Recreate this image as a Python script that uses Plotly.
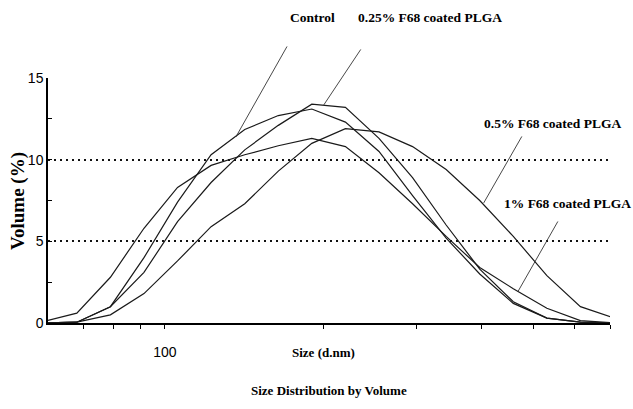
import math
import plotly.graph_objects as go

# ---------------- data ----------------
size_nm = [50.75, 58.77, 68.06, 78.82, 91.28, 105.7, 122.4, 141.8, 164.2, 190.1,
           220.2, 255.0, 295.3, 342.0, 396.1, 458.7, 531.2, 615.1, 712.4, 825.0]

vol_control = [0, 0, 0.05, 1.0, 4.0, 7.4, 10.3, 11.85, 12.7, 13.1,
               12.3, 10.5, 7.8, 5.2, 3.0, 1.2, 0.3, 0.05, 0, 0]
vol_025 = [0, 0, 0.05, 1.0, 3.1, 6.2, 8.6, 10.6, 12.1, 13.4,
           13.2, 11.3, 8.9, 6.0, 3.3, 1.3, 0.3, 0.05, 0, 0]
vol_05 = [0, 0, 0.05, 0.5, 1.8, 3.8, 5.9, 7.3, 9.3, 11.0,
          11.9, 11.7, 10.8, 9.4, 7.5, 5.3, 2.9, 1.0, 0.3, 0]
vol_1 = [0, 0.09, 0.6, 2.8, 5.8, 8.3, 9.65, 10.3, 10.85, 11.3,
         10.8, 9.2, 7.3, 5.3, 3.4, 2.1, 0.9, 0.15, 0, 0]

series_names = ["Control", "0.25% F68 coated PLGA", "0.5% F68 coated PLGA", "1% F68 coated PLGA"]
series_vals = [vol_control, vol_025, vol_05, vol_1]

x_tickvals = [70, 80, 90, 100, 200, 300, 400, 500, 600, 700]
x_ticktext = ["", "", "", "100", "", "", "", "", "", ""]
y_tickvals = [0, 5, 10, 15]
y_minor_ticks = [2.5, 7.5, 12.5]
x_range = [60, 700]
y_range = [0, 15]

# label anchors on the curves (size nm, volume %) and leader offsets (px)
label_points = [(136.4, 11.39), (200.3, 13.35), (403.0, 7.35), (467.6, 1.9)]
leader_offsets = [(52, -92), (38, -57), (39, -68), (41, -72)]
label_pix = [(312, 18), (430, 18), (552, 123), (567, 203)]

x_title = "Size (d.nm)"
y_title = "Volume (%)"
caption = "Size Distribution by Volume"

# ---------------- layout geometry ----------------
W, H = 633, 409
L, R, T, B = 48, 23, 78, 86
pw, ph = W - L - R, H - T - B


def px_x(px):
    return (px - L) / pw


def px_y(py):
    return (H - B - py) / ph


serif = "Liberation Serif, Times New Roman, serif"
narrow = "Liberation Sans Narrow, Arial Narrow, Liberation Sans, Arial, sans-serif"

fig = go.Figure()
for name, vals in zip(series_names, series_vals):
    fig.add_trace(go.Scatter(
        x=size_nm, y=vals, mode="lines", name=name,
        line=dict(color="#1a1a1a", width=1.2), hoverinfo="x+y+name"))

# vertical dotted reference line at 100 nm
fig.add_shape(type="line", xref="x", yref="y", x0=math.log10(100), x1=math.log10(100),
              y0=0, y1=14.3, line=dict(color="#111", width=2, dash="2px,9px"), layer="below")

annotations = []
for (sx, sy), (dx, dy), (lx, ly), name in zip(label_points, leader_offsets, label_pix, series_names):
    annotations.append(dict(x=math.log10(sx), y=sy, xref="x", yref="y", ax=dx, ay=dy,
                            text="", showarrow=True, arrowhead=0, arrowwidth=0.9,
                            arrowcolor="#333", standoff=0, startstandoff=0))
    annotations.append(dict(x=px_x(lx), y=px_y(ly), xref="paper", yref="paper",
                            text="<b>%s</b>" % name, showarrow=False,
                            xanchor="center", yanchor="middle",
                            font=dict(family=serif, size=13.5, color="black")))

annotations.append(dict(x=px_x(323), y=px_y(352), xref="paper", yref="paper",
                        text="<b>%s</b>" % x_title, showarrow=False,
                        xanchor="center", yanchor="middle",
                        font=dict(family=serif, size=13, color="black")))
annotations.append(dict(x=px_x(329), y=px_y(390), xref="paper", yref="paper",
                        text="<b>%s</b>" % caption, showarrow=False,
                        xanchor="center", yanchor="middle",
                        font=dict(family=serif, size=13, color="black")))
annotations.append(dict(x=px_x(18), y=px_y(201), xref="paper", yref="paper",
                        text="<b>%s</b>" % y_title, showarrow=False, textangle=-90,
                        xanchor="center", yanchor="middle",
                        font=dict(family=serif, size=19, color="black")))

fig.update_layout(
    width=W, height=H,
    margin=dict(l=L, r=R, t=T, b=B, pad=0),
    plot_bgcolor="white", paper_bgcolor="white",
    showlegend=False,
    annotations=annotations,
    xaxis=dict(type="log", range=[math.log10(x_range[0]), math.log10(x_range[1])],
               tickmode="array", tickvals=x_tickvals, ticktext=x_ticktext,
               ticks="outside", ticklen=4, tickcolor="black", tickwidth=1,
               showline=True, linecolor="black", linewidth=1.5,
               showgrid=False, zeroline=False, ticklabelstandoff=11,
               tickfont=dict(family=narrow, size=14, color="black")),
    yaxis=dict(range=y_range, tickmode="array", tickvals=y_tickvals,
               ticks="inside", ticklen=4, tickcolor="black", tickwidth=1,
               showline=True, linecolor="black", linewidth=1.5,
               showgrid=True, gridcolor="#111", gridwidth=2, griddash="2px,4px",
               zeroline=False,
               minor=dict(tickmode="array", tickvals=y_minor_ticks, ticks="inside",
                          ticklen=4, tickcolor="black", showgrid=False),
               tickfont=dict(family=narrow, size=14, color="black")),
)

fig.write_html("out.html",
               config={"displayModeBar": False},
               post_script="document.body.style.margin='0';document.body.style.overflow='hidden';")
